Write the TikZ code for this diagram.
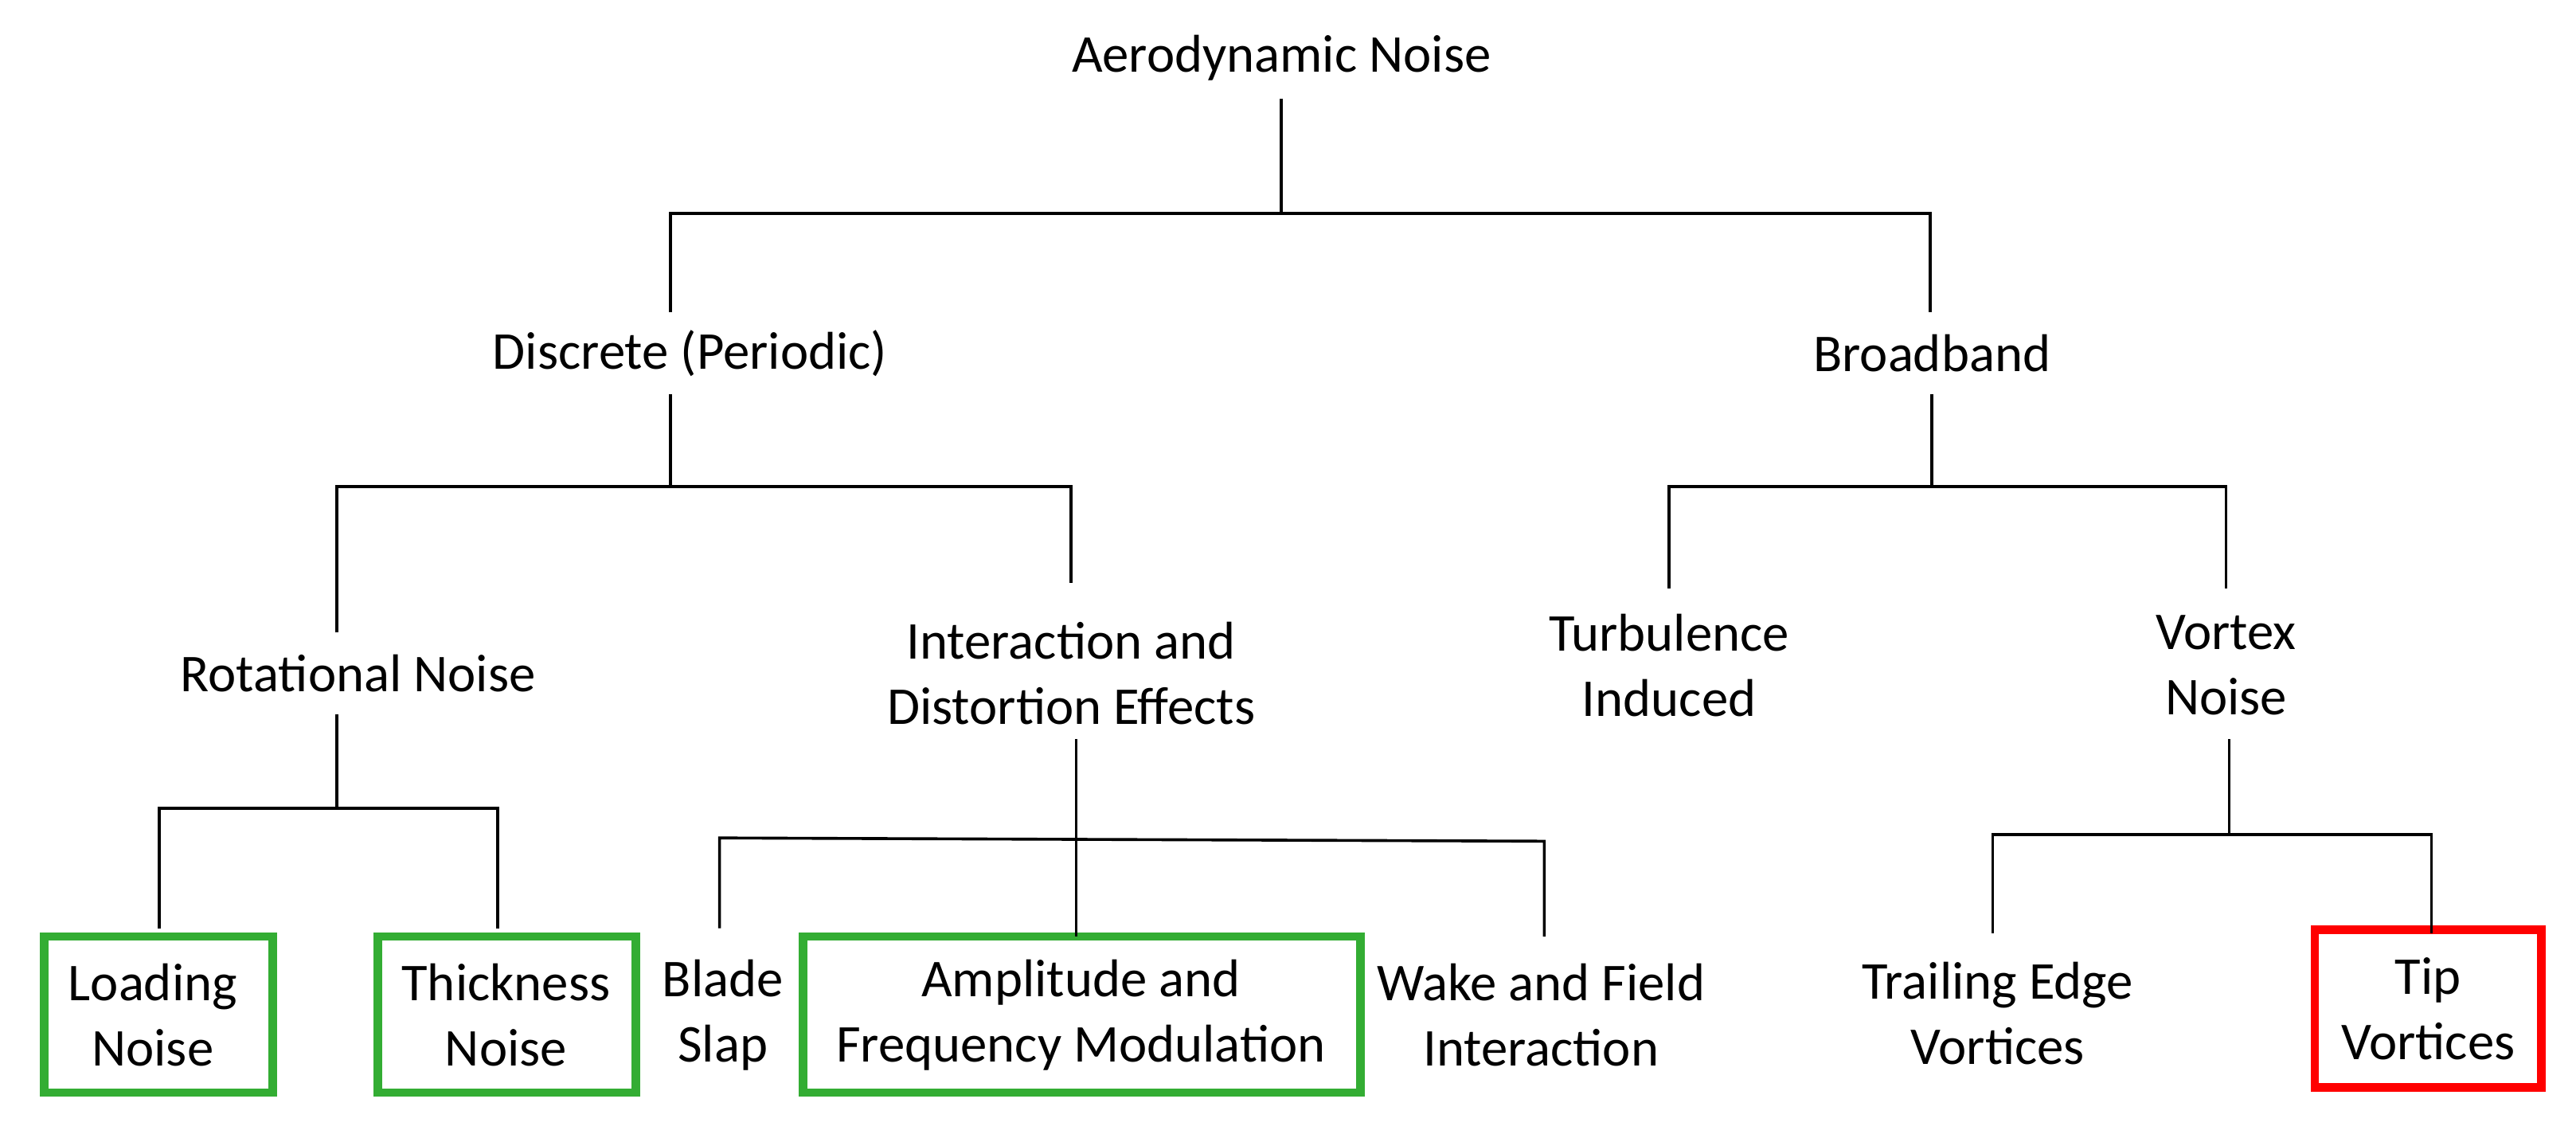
\documentclass[tikz,border=0pt]{standalone}
\usepackage{fontspec}
\setmainfont{Carlito}
\begin{document}
\begin{tikzpicture}[x=0.01cm,y=-0.01cm,
  lab/.style={font=\fontsize{9.2}{11.3}\selectfont,align=center,inner sep=0pt},
  ln/.style={line width=0.5pt},
  gbox/.style={draw=green!60!black!80,line width=1.5pt},
  rbox/.style={draw=red,line width=1.5pt}]
\useasboundingbox (0,0) rectangle (1568,690);
\node[lab] (aero) at (780,35) {Aerodynamic Noise};
\node[lab] (disc) at (420,215) {Discrete (Periodic)};
\node[lab] (broad) at (1176,215) {Broadband};
\node[lab] (rot) at (218,410) {Rotational Noise};
\node[lab] (inter) at (652,410) {Interaction and\\Distortion Effects};
\node[lab] (turb) at (1016,405) {Turbulence\\Induced};
\node[lab] (vort) at (1355,405) {Vortex\\Noise};
\draw[gbox] (27,570) rectangle (166,665);
\node[lab] (load) at (93,618) {Loading\\Noise};
\draw[gbox] (230,570) rectangle (387,665);
\node[lab] (thick) at (308,618) {Thickness\\Noise};
\node[lab] (blade) at (440,618) {Blade\\Slap};
\draw[gbox] (489,570) rectangle (828,665);
\node[lab] (amp) at (658,618) {Amplitude and\\Frequency Modulation};
\node[lab] (wake) at (938,618) {Wake and Field\\Interaction};
\node[lab] (trail) at (1216,617) {Trailing Edge\\Vortices};
\draw[rbox] (1409,566) rectangle (1547,662);
\node[lab] (tip) at (1478,614) {Tip\\Vortices};
\begin{scope}[ln]
\draw (780,60)--(780,130);
\draw (408,190)--(408,130)--(1175,130)--(1175,190);
\draw (408,240)--(408,296);
\draw (205,385)--(205,296)--(652,296)--(652,355);
\draw (1176,240)--(1176,296);
\draw (1016,358)--(1016,296)--(1355,296)--(1355,358);
\draw (205,435)--(205,492);
\draw (97,565)--(97,492)--(303,492)--(303,565);
\draw (655,450)--(655,570);
\draw (438,565)--(438,510)--(940,512)--(940,570);
\draw (1357,450)--(1357,508);
\draw (1213,568)--(1213,508)--(1480,508)--(1480,568);
\end{scope}
\end{tikzpicture}
\end{document}
